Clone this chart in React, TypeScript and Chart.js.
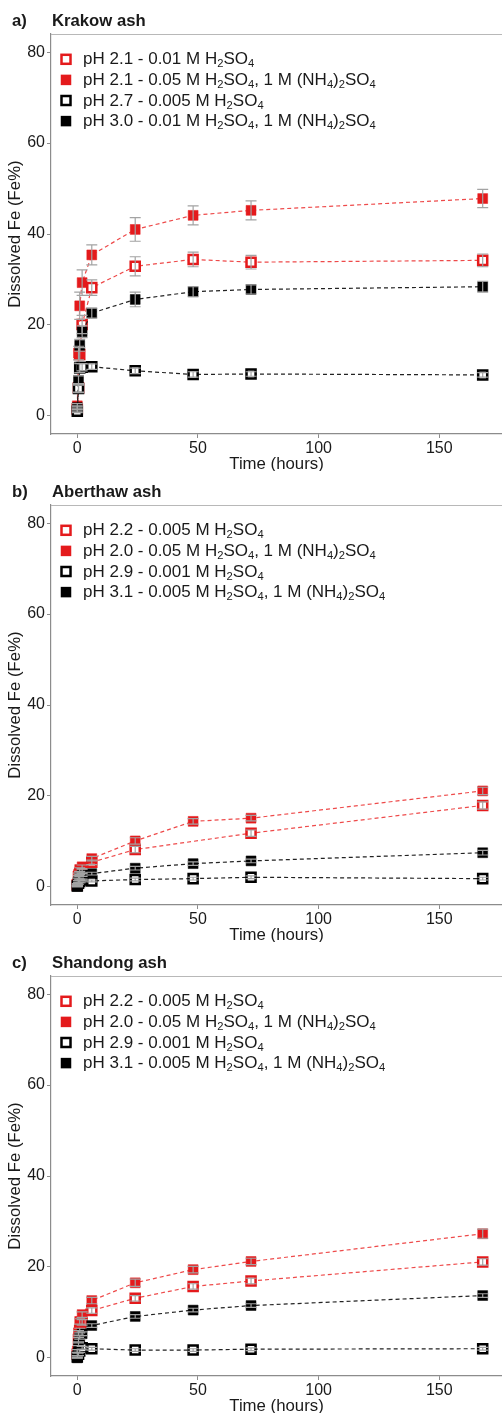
import { useEffect, useRef } from 'react';
import { Chart, registerables } from 'chart.js';

Chart.register(...registerables);

// ---------- data ----------
const TIME_ALL = [0, 0.5, 1, 2, 6, 24, 48, 72, 168];
const TIME_NO48 = [0, 0.5, 1, 2, 6, 24, 72, 168];
const X_TICKS = [0, 50, 100, 150];
const Y_TICKS = [0, 20, 40, 60, 80];

const PANEL_LETTERS = ['a)', 'b)', 'c)'];
const PANEL_TITLES = ['Krakow ash', 'Aberthaw ash', 'Shandong ash'];
const X_TITLE = 'Time (hours)';
const Y_TITLE = 'Dissolved Fe (Fe%)';

const KRAKOW_LABELS = [
  'pH 2.1 - 0.01 M H₂SO₄',
  'pH 2.1 - 0.05 M H₂SO₄, 1 M (NH₄)₂SO₄',
  'pH 2.7 - 0.005 M H₂SO₄',
  'pH 3.0 - 0.01 M H₂SO₄, 1 M (NH₄)₂SO₄',
];
const ABERTHAW_LABELS = [
  'pH 2.2 - 0.005 M H₂SO₄',
  'pH 2.0 - 0.05 M H₂SO₄, 1 M (NH₄)₂SO₄',
  'pH 2.9 - 0.001 M H₂SO₄',
  'pH 3.1 - 0.005 M H₂SO₄, 1 M (NH₄)₂SO₄',
];
const SHANDONG_LABELS = [
  'pH 2.2 - 0.005 M H₂SO₄',
  'pH 2.0 - 0.05 M H₂SO₄, 1 M (NH₄)₂SO₄',
  'pH 2.9 - 0.001 M H₂SO₄',
  'pH 3.1 - 0.005 M H₂SO₄, 1 M (NH₄)₂SO₄',
];

// Krakow
const krakowOpenRed = [1.5, 6.1, 13.5, 20.1, 28.2, 32.9, 34.4, 33.8, 34.2];
const krakowOpenRedErr = [0.5, 1.0, 1.5, 2.0, 1.7, 2.1, 1.6, 1.5, 1.4];
const krakowFilledRed = [2.2, 13.8, 24.2, 29.3, 35.4, 41.0, 44.1, 45.2, 47.8];
const krakowFilledRedErr = [0.5, 1.5, 3.0, 2.8, 2.2, 2.6, 2.1, 2.1, 2.0];
const krakowOpenBlack = [1.0, 6.0, 10.5, 10.7, 10.8, 9.9, 9.1, 9.2, 9.0];
const krakowOpenBlackErr = [0.3, 0.8, 1.0, 0.8, 0.6, 0.6, 0.6, 0.5, 0.5];
const krakowFilledBlack = [1.8, 7.8, 15.5, 18.5, 22.6, 25.6, 27.3, 27.8, 28.4];
const krakowFilledBlackErr = [0.4, 1.0, 1.3, 1.3, 1.1, 1.6, 1.1, 1.0, 1.2];

// Aberthaw
const aberOpenRed = [0.4, 2.2, 3.0, 3.5, 5.4, 8.2, 11.8, 17.9];
const aberOpenRedErr = [0.2, 0.3, 0.3, 0.4, 0.5, 0.7, 0.7, 0.8];
const aberFilledRed = [0.5, 2.7, 3.8, 4.4, 6.2, 10.1, 14.4, 15.1, 21.1];
const aberFilledRedErr = [0.2, 0.3, 0.4, 0.4, 0.5, 0.7, 0.6, 0.6, 0.8];
const aberOpenBlack = [0.2, 0.8, 1.2, 1.5, 1.3, 1.6, 1.8, 2.1, 1.8];
const aberOpenBlackErr = [0.1, 0.2, 0.2, 0.2, 0.2, 0.3, 0.3, 0.3, 0.3];
const aberFilledBlack = [0.1, 1.2, 2.0, 2.6, 2.9, 4.1, 5.1, 5.7, 7.5];
const aberFilledBlackErr = [0.1, 0.2, 0.3, 0.3, 0.3, 0.4, 0.4, 0.4, 0.5];

// Shandong
const shanOpenRed = [0.8, 4.0, 6.0, 7.8, 10.4, 13.1, 15.7, 16.9, 21.1];
const shanOpenRedErr = [0.3, 0.5, 0.5, 0.6, 0.6, 0.6, 0.6, 0.6, 0.7];
const shanFilledRed = [1.5, 5.5, 8.0, 9.5, 12.6, 16.5, 19.4, 21.2, 27.3];
const shanFilledRedErr = [0.3, 0.5, 0.6, 0.6, 0.7, 0.8, 0.7, 0.7, 1.0];
const shanOpenBlack = [0.2, 0.8, 1.5, 2.2, 2.0, 1.7, 1.7, 1.9, 2.0];
const shanOpenBlackErr = [0.2, 0.3, 0.3, 0.3, 0.3, 0.3, 0.3, 0.3, 0.3];
const shanFilledBlack = [0.0, 3.0, 4.5, 5.3, 7.1, 9.1, 10.5, 11.5, 13.7];
const shanFilledBlackErr = [0.1, 0.3, 0.4, 0.4, 0.4, 0.4, 0.4, 0.4, 0.4];

// ---------- style ----------
const RED = '#e41a1c';
const RED_LINE = '#ee4a4a';
const BLACK = '#000000';
const BLACK_LINE = '#222222';
const ERR_COLOR = '#a3a3a3';
const AXIS_COLOR = '#8c8c8c';
const FRAME_COLOR = '#b8b8b8';
const TEXT_COLOR = '#1a1a1a';
const FONT = '"Liberation Sans", Arial, Helvetica, sans-serif';
const W = 502;
const H = 471;

type Series = { times: number[]; values: number[]; errs: number[]; color: string; line: string; open: boolean };
type PanelDef = { letter: string; title: string; labels: string[]; series: Series[] };

const SERIES_STYLE = [
  { color: RED, line: RED_LINE, open: true },
  { color: RED, line: RED_LINE, open: false },
  { color: BLACK, line: BLACK_LINE, open: true },
  { color: BLACK, line: BLACK_LINE, open: false },
];

function mk(idx: number, times: number[], values: number[], errs: number[]): Series {
  return { times, values, errs, ...SERIES_STYLE[idx] };
}

const PANELS: PanelDef[] = [
  {
    letter: PANEL_LETTERS[0], title: PANEL_TITLES[0], labels: KRAKOW_LABELS,
    series: [
      mk(0, TIME_ALL, krakowOpenRed, krakowOpenRedErr),
      mk(1, TIME_ALL, krakowFilledRed, krakowFilledRedErr),
      mk(2, TIME_ALL, krakowOpenBlack, krakowOpenBlackErr),
      mk(3, TIME_ALL, krakowFilledBlack, krakowFilledBlackErr),
    ],
  },
  {
    letter: PANEL_LETTERS[1], title: PANEL_TITLES[1], labels: ABERTHAW_LABELS,
    series: [
      mk(0, TIME_NO48, aberOpenRed, aberOpenRedErr),
      mk(1, TIME_ALL, aberFilledRed, aberFilledRedErr),
      mk(2, TIME_ALL, aberOpenBlack, aberOpenBlackErr),
      mk(3, TIME_ALL, aberFilledBlack, aberFilledBlackErr),
    ],
  },
  {
    letter: PANEL_LETTERS[2], title: PANEL_TITLES[2], labels: SHANDONG_LABELS,
    series: [
      mk(0, TIME_ALL, shanOpenRed, shanOpenRedErr),
      mk(1, TIME_ALL, shanFilledRed, shanFilledRedErr),
      mk(2, TIME_ALL, shanOpenBlack, shanOpenBlackErr),
      mk(3, TIME_ALL, shanFilledBlack, shanFilledBlackErr),
    ],
  },
];

const SUBS = '₀₁₂₃₄₅₆₇₈₉';

function drawRich(ctx: CanvasRenderingContext2D, text: string, x: number, y: number, size: number, subSize: number, subDrop: number) {
  let cx = x;
  let buf = '';
  let sub = false;
  const flush = () => {
    if (!buf) return;
    ctx.font = `${sub ? subSize : size}px ${FONT}`;
    ctx.fillText(buf, cx, sub ? y + subDrop : y);
    cx += ctx.measureText(buf).width;
    buf = '';
  };
  for (const ch of text) {
    const i = SUBS.indexOf(ch);
    const isSub = i >= 0;
    if (isSub !== sub) flush();
    sub = isSub;
    buf += isSub ? String(i) : ch;
  }
  flush();
}

function drawSquare(ctx: CanvasRenderingContext2D, cx: number, cy: number, color: string, open: boolean) {
  ctx.save();
  if (open) {
    const s = 9;
    ctx.fillStyle = '#ffffff';
    ctx.fillRect(cx - s / 2, cy - s / 2, s, s);
    ctx.strokeStyle = color;
    ctx.lineWidth = 2.5;
    ctx.strokeRect(cx - s / 2, cy - s / 2, s, s);
  } else {
    const s = 10.5;
    ctx.fillStyle = color;
    ctx.fillRect(cx - s / 2, cy - s / 2, s, s);
  }
  ctx.restore();
}

function makePlugin(panel: PanelDef) {
  return {
    id: 'panelDecor',
    beforeDatasetsDraw(chart: any) {
      const { ctx, chartArea } = chart;
      ctx.save();
      ctx.strokeStyle = FRAME_COLOR;
      ctx.lineWidth = 1;
      ctx.beginPath();
      ctx.moveTo(chartArea.left, chartArea.top + 0.5);
      ctx.lineTo(chartArea.right, chartArea.top + 0.5);
      ctx.stroke();
      ctx.restore();
    },
    afterDatasetsDraw(chart: any) {
      const { ctx } = chart;
      const xs = chart.scales.x;
      const ys = chart.scales.y;
      ctx.save();
      ctx.strokeStyle = ERR_COLOR;
      ctx.lineWidth = 1.2;
      const cap = 5.5;
      chart.data.datasets.forEach((ds: any) => {
        ds.data.forEach((pt: any, j: number) => {
          const e = ds.errs[j];
          const px = xs.getPixelForValue(pt.x);
          const y1 = ys.getPixelForValue(pt.y - e);
          const y2 = ys.getPixelForValue(pt.y + e);
          ctx.beginPath();
          ctx.moveTo(px, y1);
          ctx.lineTo(px, y2);
          ctx.moveTo(px - cap, y1);
          ctx.lineTo(px + cap, y1);
          ctx.moveTo(px - cap, y2);
          ctx.lineTo(px + cap, y2);
          ctx.stroke();
        });
      });
      ctx.restore();
    },
    afterDraw(chart: any) {
      const { ctx, chartArea } = chart;
      ctx.save();
      // panel title
      ctx.fillStyle = TEXT_COLOR;
      ctx.textBaseline = 'alphabetic';
      ctx.textAlign = 'left';
      ctx.font = `bold 16.7px ${FONT}`;
      ctx.fillText(panel.letter, 12, 25.5);
      ctx.fillText(panel.title, chartArea.left + 1, 25.5);
      // legend
      const rowStep = 20.6;
      const base0 = chartArea.top + 30.3;
      panel.labels.forEach((lab, i) => {
        const base = base0 + i * rowStep;
        const s = panel.series[i];
        drawSquare(ctx, 66, base - 5, s.color, s.open);
        ctx.fillStyle = TEXT_COLOR;
        drawRich(ctx, lab, 83, base, 17, 11.2, 3);
      });
      ctx.restore();
    },
  };
}

function buildConfig(panel: PanelDef): any {
  const datasets = panel.series.map((s, i) => ({
    label: panel.labels[i],
    data: s.times.map((t, k) => ({ x: t, y: s.values[k] })),
    errs: s.errs,
    showLine: true,
    borderColor: s.line,
    borderWidth: 1.2,
    borderDash: [4, 3],
    tension: 0,
    pointStyle: 'rect',
    pointRadius: s.open ? 6.4 : 7.0,
    pointBorderWidth: s.open ? 2.5 : 0.5,
    pointBorderColor: s.color,
    pointBackgroundColor: s.open ? '#ffffff' : s.color,
    pointHoverRadius: 6.4,
    order: 4 - i,
  }));
  const tickFont = { family: FONT, size: 16 };
  const titleFont = { family: FONT, size: 16.8, lineHeight: 1 };
  return {
    type: 'scatter',
    data: { datasets },
    plugins: [makePlugin(panel)],
    options: {
      animation: false,
      responsive: false,
      events: [],
      layout: { autoPadding: false, padding: { top: 34, left: 0, right: 0, bottom: 0 } },
      plugins: {
        legend: { display: false },
        tooltip: { enabled: false },
        title: { display: false },
      },
      scales: {
        x: {
          type: 'linear',
          min: -10.9,
          max: 176,
          afterFit: (s: any) => { s.height = H - 434; s.paddingLeft = 0; s.paddingRight = 0; },
          afterBuildTicks: (s: any) => { s.ticks = X_TICKS.map((v) => ({ value: v })); },
          ticks: { color: TEXT_COLOR, font: tickFont, padding: 1, maxRotation: 0 },
          grid: { drawOnChartArea: false, drawTicks: true, tickLength: 4, color: AXIS_COLOR, lineWidth: 1 },
          border: { display: true, color: AXIS_COLOR, width: 1.2 },
          title: { display: true, text: X_TITLE, color: TEXT_COLOR, font: titleFont, padding: { top: 0, bottom: -1.5 } },
        },
        y: {
          type: 'linear',
          min: -4,
          max: 84,
          afterFit: (s: any) => { s.width = 51; s.paddingTop = 0; s.paddingBottom = 0; },
          afterBuildTicks: (s: any) => { s.ticks = Y_TICKS.map((v) => ({ value: v })); },
          ticks: { color: TEXT_COLOR, font: tickFont, padding: 2 },
          grid: { drawOnChartArea: false, drawTicks: true, tickLength: 4, color: AXIS_COLOR, lineWidth: 1 },
          border: { display: true, color: AXIS_COLOR, width: 1.2 },
          title: { display: true, text: Y_TITLE, color: TEXT_COLOR, font: titleFont, padding: { top: 7, bottom: 0 } },
        },
      },
    },
  };
}

function Panel({ panel }: { panel: PanelDef }) {
  const ref = useRef<HTMLCanvasElement>(null);
  useEffect(() => {
    if (!ref.current) return;
    const chart = new Chart(ref.current, buildConfig(panel));
    return () => chart.destroy();
  }, [panel]);
  return <canvas ref={ref} width={W} height={H} style={{ display: 'block', width: W, height: H }} />;
}

export default function App() {
  return (
    <div style={{ position: 'absolute', left: 0, top: 0, width: W, background: '#ffffff' }}>
      {PANELS.map((p) => (
        <Panel key={p.letter} panel={p} />
      ))}
    </div>
  );
}
